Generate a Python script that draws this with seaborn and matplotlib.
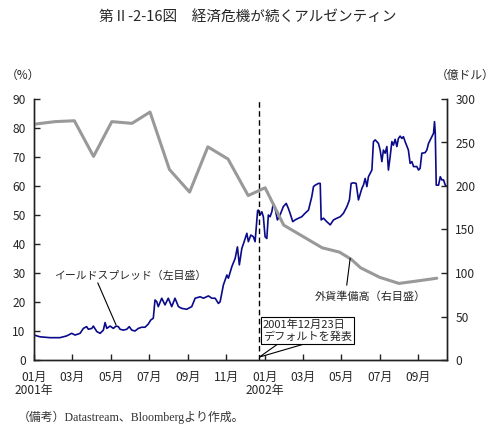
import pandas as pd
import matplotlib
matplotlib.use('Agg')
import matplotlib.pyplot as plt
from matplotlib.patches import Polygon
import seaborn as sns

# x values are months counted from 2001-01-01
spread_month = [0.00, 0.31, 0.83, 1.35, 1.70, 1.96, 2.14, 2.40, 2.57, 2.74, 2.83, 3.01, 3.09, 3.27,
                3.44, 3.61, 3.70, 3.79, 3.96, 4.13, 4.27, 4.39, 4.48, 4.65, 4.83, 4.96, 5.09, 5.26,
                5.43, 5.61, 5.78, 5.95, 6.08, 6.21, 6.30, 6.39, 6.47, 6.65, 6.82, 6.99, 7.17, 7.34,
                7.52, 7.69, 7.95, 8.21, 8.39, 8.65, 8.82, 9.08, 9.26, 9.43, 9.60, 9.69, 9.86, 10.04,
                10.12, 10.30, 10.47, 10.59, 10.69, 10.82, 10.94, 11.08, 11.16, 11.29, 11.42, 11.51,
                11.56, 11.64, 11.68, 11.77, 11.86, 11.94, 12.03, 12.12, 12.20, 12.29, 12.38, 12.46,
                12.55, 12.67, 12.81, 12.98, 13.13, 13.24, 13.33, 13.47, 13.59, 13.77, 13.94, 14.11,
                14.29, 14.46, 14.55, 14.64, 14.81, 14.90, 14.95, 15.07, 15.24, 15.42, 15.59, 15.77,
                15.94, 16.11, 16.29, 16.42, 16.51, 16.63, 16.77, 16.89, 17.07, 17.15, 17.24, 17.33,
                17.41, 17.59, 17.67, 17.76, 17.93, 18.02, 18.11, 18.19, 18.28, 18.37, 18.45, 18.54,
                18.63, 18.71, 18.80, 18.89, 18.97, 19.06, 19.15, 19.23, 19.32, 19.49, 19.58, 19.67,
                19.76, 19.93, 20.02, 20.10, 20.19, 20.36, 20.45, 20.54, 20.71, 20.80, 20.85, 20.89,
                20.94, 21.06, 21.15, 21.23, 21.32, 21.41, 21.46]
spread_pct = [8.6, 8.0, 7.7, 7.7, 8.3, 9.2, 8.6, 9.2, 10.9, 11.5, 10.6, 10.9, 11.7, 9.8,
              9.2, 10.3, 12.9, 10.9, 11.7, 10.9, 11.7, 11.5, 10.6, 10.3, 10.6, 11.5, 10.3, 10.0,
              10.9, 11.3, 11.3, 12.4, 13.8, 14.4, 20.7, 20.1, 18.4, 21.3, 19.0, 21.3, 18.4, 21.3,
              18.4, 17.8, 17.5, 18.4, 21.3, 21.8, 21.3, 22.1, 21.3, 21.3, 19.5, 20.1, 25.9, 29.3,
              28.2, 32.2, 35.0, 39.0, 32.8, 38.5, 40.8, 43.7, 40.8, 43.1, 42.5, 40.8,
              44.8, 51.5, 51.7, 50.0, 51.1, 49.4, 42.5, 41.9, 50.0, 49.4, 51.1, 54.0,
              52.3, 48.3, 50.0, 52.9, 54.0, 52.3, 50.6, 47.7, 48.3, 48.9, 49.4, 50.6,
              51.7, 56.3, 59.8, 60.3, 60.9, 60.9, 48.3, 48.9, 47.7, 46.6, 48.3, 48.9,
              49.4, 50.6, 52.9, 55.2, 60.9, 61.1, 60.9, 55.2, 59.2, 60.3, 62.6, 59.8,
              63.2, 65.5, 75.3, 75.9, 74.7, 72.4, 68.4, 72.4, 71.3, 73.6, 65.5, 70.1,
              75.3, 74.1, 76.1, 73.6, 76.4, 77.2, 76.4, 77.0, 75.3, 72.4, 67.8, 68.4,
              66.7, 66.7, 65.5, 66.1, 71.3, 71.5, 72.4, 74.7, 77.0, 78.2, 82.2, 78.2,
              60.3, 60.3, 63.2, 62.1, 62.1, 60.3, 60.0]

reserve_month = [0, 1.1, 2.1, 3.1, 4.05, 5.1, 6.04, 7.05, 8.1, 9.05, 10.1, 11.15,
                 12.03, 13, 14, 15, 15.9, 16.5, 17, 18, 19, 20, 20.97]
reserve_val = [271, 274, 275, 234, 274, 272, 285, 219, 193, 245, 231, 189,
               198, 155, 142, 129, 124, 116, 106, 95, 88, 91, 94]

tick_month = [0, 2, 4, 6, 8, 10, 12, 14, 16, 18, 20]
tick_labels = ['01月\n2001年', '03月', '05月', '07月', '09月', '11月',
               '01月\n2002年', '03月', '05月', '07月', '09月']
default_month = 11.73  # 2001-12-23

spread = pd.DataFrame({'month': spread_month, 'pct': spread_pct})
reserves = pd.DataFrame({'month': reserve_month, 'val': reserve_val})

sns.set_style('ticks')
plt.rcParams['font.family'] = ['Noto Sans CJK JP', 'DejaVu Sans']

fig = plt.figure(figsize=(4.95, 4.34), dpi=100)
ax = fig.add_axes([34 / 495, 74 / 434, 413 / 495, 261 / 434])
ax2 = ax.twinx()

sns.lineplot(data=spread, x='month', y='pct', ax=ax, color='#0a0a8a', lw=1.2)
sns.lineplot(data=reserves, x='month', y='val', ax=ax2, color='#999999', lw=2.2)

ax.set_xlim(0, 21.5)
ax.set_ylim(0, 90)
ax2.set_ylim(0, 300)
ax.set_yticks(range(0, 91, 10))
ax2.set_yticks(range(0, 301, 50))
ax.set_xticks(tick_month)
ax.set_xticklabels(tick_labels, linespacing=1.0)
for a in (ax, ax2):
    a.set_xlabel('')
    a.set_ylabel('')
    a.spines['top'].set_visible(False)
    for s in a.spines.values():
        s.set_linewidth(1.0)
        s.set_color('#222222')
    a.tick_params(direction='in', length=4, width=1, labelsize=8.6, pad=6, color='#222222')
ax.tick_params(axis='x', pad=8)

# default line and callout
ax.axvline(default_month, color='black', lw=1, ls=(0, (4, 2.5)))
ax.add_patch(Polygon([(default_month, 1.0), (12.71, 5.6), (14.11, 5.6)], closed=True,
                     fc='white', ec='black', lw=0.8, zorder=4))
ax.text(11.92, 10.2, '2001年12月23日\nデフォルトを発表', fontsize=8, ha='left', va='center',
        linespacing=1.15, zorder=5,
        bbox=dict(boxstyle='square,pad=0.2', fc='white', ec='black', lw=0.8))

ax.text(5.0, 29, 'イールドスプレッド（左目盛）', fontsize=7.8, ha='center', va='center')
ax.plot([3.32, 4.27], [26.6, 12.1], color='black', lw=0.8)
ax2.text(17.5, 72.4, '外貨準備高（右目盛）', fontsize=8, ha='center', va='center')
ax2.plot([16.28, 16.46], [86, 117], color='black', lw=0.8)

fig.text(0.5, 1 - 17 / 434, '第Ⅱ-2-16図　経済危機が続くアルゼンティン', fontsize=10.5,
         ha='center', va='center')
fig.text(23 / 495, 1 - 75 / 434, '（%）', fontsize=8.5, ha='center', va='center')
fig.text(0.998, 1 - 75 / 434, '（億ドル）', fontsize=8.5, ha='right', va='center')
fig.text(18 / 495, 1 - 417 / 434, '（備考）Datastream、Bloombergより作成。', fontsize=8.6,
         ha='left', va='center', family=['Liberation Serif', 'Noto Sans CJK JP'], color='#333333')

fig.savefig('out.png', dpi=100)
